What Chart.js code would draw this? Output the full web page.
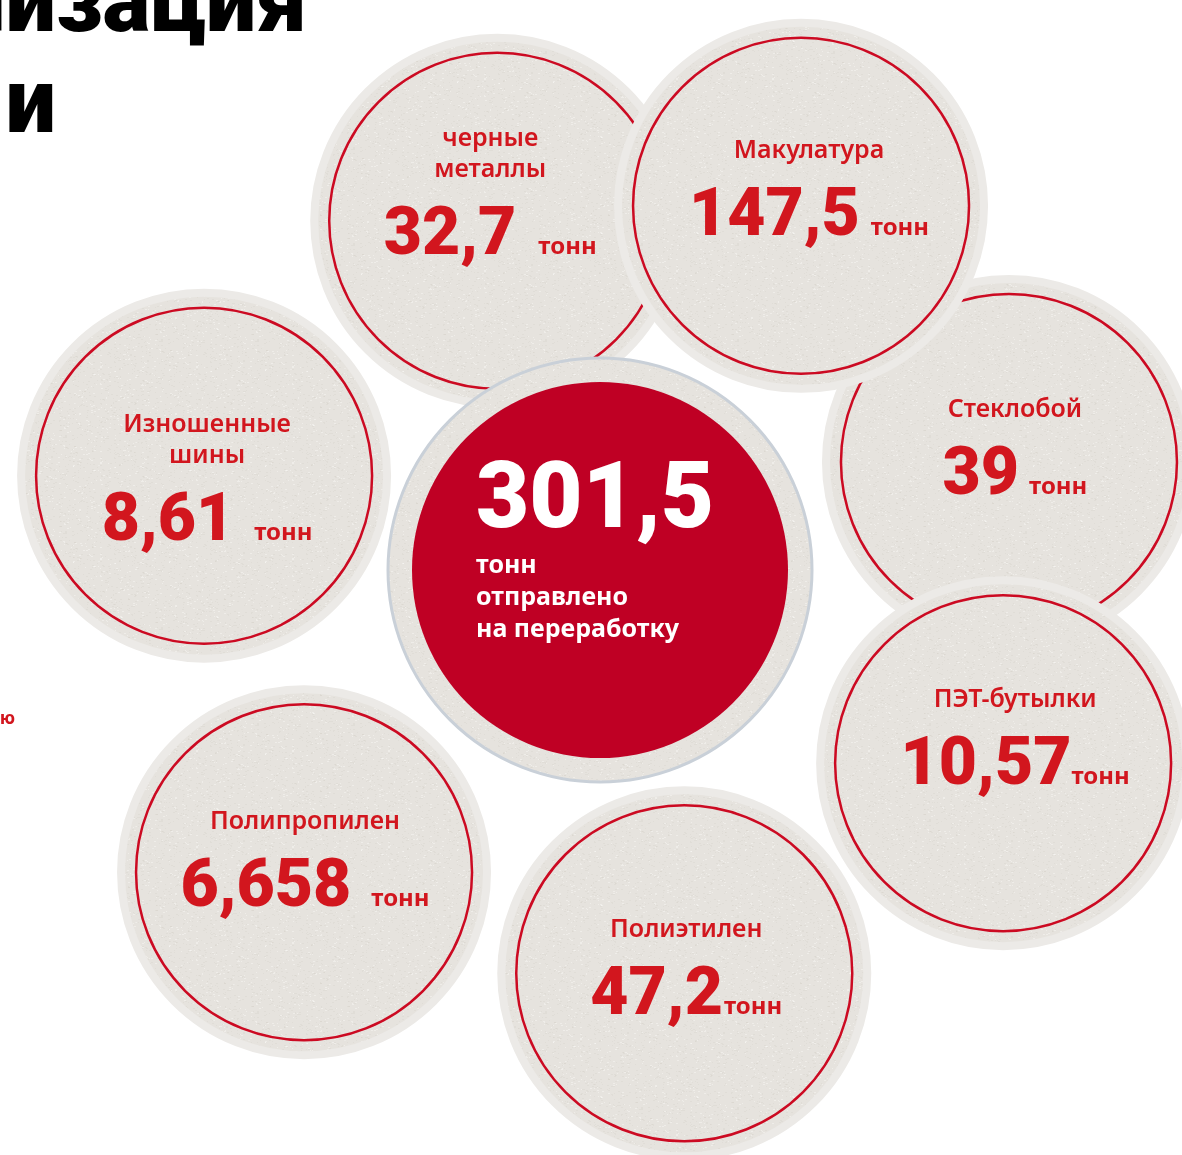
<!DOCTYPE html>
<html lang="ru">
<head>
<meta charset="utf-8">
<title>Утилизация отходов</title>
<script src="https://cdn.jsdelivr.net/npm/chart.js@4.4.1/dist/chart.umd.min.js"></script>
<style>
  html, body { margin: 0; padding: 0; background: #fff; }
  canvas { display: block; }
</style>
</head>
<body>
<canvas id="recycleChart" width="1182" height="1155"></canvas>
<script>
// tonnes sent to recycling, by material (clockwise from the top)
const categories = ["черные\nметаллы", "Макулатура", "Стеклобой", "ПЭТ-бутылки", "Полиэтилен", "Полипропилен", "Изношенные\nшины"];
const tonnes = [32.7, 147.5, 39, 10.57, 47.2, 6.658, 8.61];
const totalTonnes = 301.5;
const unitLabel = "тонн";
const totalCaption = ["тонн", "отправлено", "на переработку"];

// layout: where each coaster sits around the hub (degrees clockwise from up, distance)
const ringAngle = [-16.4, 28.9, 75.2, 115.6, 168.2, 224.4, 283.4];
const ringDist = [364, 416, 423, 447, 412, 423, 407];
const stackOrder = [6, 2, 7, 1, 5, 4, 3];   // lower = drawn on top
const labelDy = [-75, -48, -45, -56, -36, -43, -44];
const textDx = [-7, 8, 6, 12, 2, 1, 3];
const unitGap = [22, 11, 10, 0, 1, 20, 20];

const RED_TEXT = '#d2161e';
const RED_RING = '#cc0a22';
const RED_HUB = '#bf0024';
const fmt = v => String(v).replace('.', ',');

// paper-like speckle used as the coaster fill
function paperPattern() {
    const p = document.createElement('canvas');
    p.width = p.height = 96;
    const g = p.getContext('2d');
    g.fillStyle = '#e6e3de';
    g.fillRect(0, 0, 96, 96);
    for (let i = 0; i < 700; i++) {
        const x = (i * 37 + ((i * i) % 53)) % 96;
        const y = (i * 61 + ((i * 7) % 29)) % 96;
        g.fillStyle = (i % 3 === 0) ? 'rgba(255,255,255,0.35)' : 'rgba(205,200,193,0.22)';
        g.fillRect(x, y, 1 + (i % 2), 1);
    }
    return g.createPattern(p, 'repeat');
}
const paper = paperPattern();

const toRad = d => d * Math.PI / 180;
const datasets = [{
    label: 'всего',
    data: [{ x: 0, y: 0, r: 212 }, { x: 0, y: 0, r: 188 }],
    backgroundColor: [paper, RED_HUB],
    borderColor: ['#c9d0d8', RED_HUB],
    borderWidth: [3, 0],
    order: 0
}];
categories.forEach((name, i) => {
    const x = ringDist[i] * Math.sin(toRad(ringAngle[i]));
    const y = -ringDist[i] * Math.cos(toRad(ringAngle[i]));
    datasets.push({
        label: name,
        data: [{ x, y, r: 183 }, { x, y, r: 168 }],
        backgroundColor: [paper, 'rgba(0,0,0,0)'],
        borderColor: ['#eceae7', RED_RING],
        borderWidth: [8, 2.5],
        order: stackOrder[i] + 1
    });
});

const textPlugin = {
    id: 'coasterText',
    afterDatasetsDraw(chart) {
        const c = chart.ctx;
        c.save();
        c.textBaseline = 'alphabetic';
        categories.forEach((name, i) => {
            const el = chart.getDatasetMeta(i + 1).data[0];
            const cx = el.x + textDx[i];
            let y = el.y + labelDy[i];
            c.fillStyle = RED_TEXT;
            c.textAlign = 'center';
            c.font = '600 25px "Noto Sans"';
            const lines = name.split('\n');
            lines.forEach((ln, k) => c.fillText(ln, cx, y + k * 31));
            y += (lines.length - 1) * 31 + 77;
            const val = fmt(tonnes[i]);
            c.font = '900 66px Roboto';
            const vw = c.measureText(val).width;
            c.font = 'bold 24px "Noto Sans"';
            const uw = c.measureText(unitLabel).width;
            const x0 = cx - (vw + unitGap[i] + uw) / 2;
            c.textAlign = 'left';
            c.font = '900 66px Roboto';
            c.fillText(val, x0, y);
            c.font = 'bold 24px "Noto Sans"';
            c.fillText(unitLabel, x0 + vw + unitGap[i], y);
        });

        const hub = chart.getDatasetMeta(0).data[0];
        c.fillStyle = '#ffffff';
        c.textAlign = 'left';
        c.font = '900 92px Roboto';
        c.fillText(fmt(totalTonnes), hub.x - 124, hub.y - 43);
        c.font = 'bold 25px "Noto Sans"';
        totalCaption.forEach((ln, k) => c.fillText(ln, hub.x - 124, hub.y + 3 + k * 32));
        c.restore();
    },
    afterDraw(chart) {
        // page heading and side note, cut by the page edge
        const c = chart.ctx;
        c.save();
        c.fillStyle = '#000';
        c.textAlign = 'right';
        c.font = '900 90px Roboto';
        c.fillText('Утилизация', 307, 31);
        c.fillText('отходами', 56, 132);
        c.fillStyle = RED_TEXT;
        c.font = 'bold 18px "Noto Sans"';
        c.fillText('ю', 15, 724);
        c.restore();
    }
};

new Chart(document.getElementById('recycleChart'), {
    type: 'bubble',
    data: { datasets },
    options: {
        responsive: false,
        animation: false,
        events: [],
        layout: { padding: 0, autoPadding: false },
        clip: false,
        scales: {
            x: { type: 'linear', min: -600, max: 582, display: false },
            y: { type: 'linear', min: -570, max: 585, reverse: true, display: false }
        },
        plugins: { legend: { display: false }, tooltip: { enabled: false } }
    },
    plugins: [textPlugin]
});
</script>
</body>
</html>
